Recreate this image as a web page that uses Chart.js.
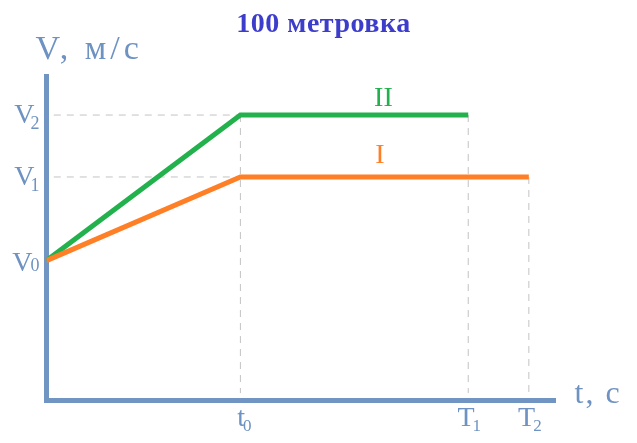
<!DOCTYPE html>
<html><head><meta charset="utf-8">
<script src="https://cdn.jsdelivr.net/npm/chart.js@4"></script>
<style>html,body{margin:0;padding:0;background:#fff}#wrap{width:637px;height:443px;position:relative}</style>
</head><body><div id="wrap"><canvas id="c" width="637" height="443"></canvas></div>
<script>
const titleText = '100 метровка';
const yAxisName = 'V, м/с';
const xAxisName = 't, с';
const xTickValues = [4, 8.7, 9.95];
const xTickNames = ['t', 'T', 'T'];
const xTickSubs = ['0', '1', '2'];
const yTickValues = [4.9, 7.83, 10];
const yTickNames = ['V', 'V', 'V'];
const yTickSubs = ['0', '1', '2'];
const seriesNames = ['I', 'II'];
const timeI = [0, 4, 9.95];
const speedI = [4.9, 7.83, 7.83];
const timeII = [0, 4, 8.7];
const speedII = [4.9, 10, 10];

const AXIS = '#7095c2';
const TEXT = '#6e92c2';
const GREEN = '#22b14c';
const ORANGE = '#ff7f27';
const GUIDE = '#c3c3c3';
const SERIF = '"Liberation Serif", "DejaVu Serif", serif';

const gapX = 0.15, gapY = 0.26;
function pts(xs, ys) { return xs.map((x, i) => ({x: x, y: ys[i]})); }
const guides = [
  pts([gapX, timeII[1]], [speedII[1], speedII[1]]),
  pts([gapX, timeI[1]], [speedI[1], speedI[1]]),
  pts([timeII[1], timeII[1]], [speedII[1], gapY]),
  pts([timeII[2], timeII[2]], [speedII[2], gapY]),
  pts([timeI[2], timeI[2]], [speedI[2], gapY])
];

const datasets = [
  {label: seriesNames[0], data: pts(timeI, speedI), borderColor: ORANGE, borderWidth: 5, pointRadius: 0, tension: 0},
  {label: seriesNames[1], data: pts(timeII, speedII), borderColor: GREEN, borderWidth: 5, pointRadius: 0, tension: 0}
].concat(guides.map(g => ({data: g, borderColor: GUIDE, borderWidth: 1, borderDash: [7, 6], pointRadius: 0})));

const labelsPlugin = {
  id: 'labels',
  afterDraw(chart) {
    const ctx = chart.ctx, xs = chart.scales.x, ys = chart.scales.y, a = chart.chartArea;
    ctx.save();
    ctx.textBaseline = 'alphabetic';
    // title
    ctx.fillStyle = '#3d3dcc';
    ctx.font = 'bold 28px ' + SERIF;
    ctx.textAlign = 'center';
    ctx.letterSpacing = '0.5px';
    ctx.fillText(titleText, chart.width / 2 + 5, 32);
    ctx.fillStyle = TEXT;
    // axis names
    ctx.font = '34px ' + SERIF;
    ctx.textAlign = 'left';
    ctx.letterSpacing = '4px';
    ctx.fillText(yAxisName, a.left - 11, a.top - 18);
    ctx.font = '32px ' + SERIF;
    ctx.letterSpacing = '2px';
    ctx.fillText(xAxisName, a.right + 19, a.bottom + 2);
    ctx.letterSpacing = '0px';
    // y ticks
    yTickValues.forEach((v, i) => {
      const y = ys.getPixelForValue(v);
      const sub = i === 0;
      const subX = a.left - 7;
      ctx.font = '18px ' + SERIF;
      const sw = ctx.measureText(yTickSubs[i]).width;
      ctx.textAlign = 'left';
      ctx.fillText(yTickSubs[i], subX - sw, y + (sub ? 10 : 14));
      ctx.font = '28px ' + SERIF;
      ctx.textAlign = 'right';
      ctx.fillText(yTickNames[i], subX - sw + (sub ? 2 : 4), y + (sub ? 10 : 8));
    });
    // x ticks
    xTickValues.forEach((v, i) => {
      const x = xs.getPixelForValue(v);
      ctx.font = '28px ' + SERIF;
      const mw = ctx.measureText(xTickNames[i]).width;
      ctx.font = '17px ' + SERIF;
      const sw = ctx.measureText(xTickSubs[i]).width;
      const left = x - (mw + sw - 2) / 2 + (i === 0 ? 4 : 1);
      ctx.textAlign = 'left';
      ctx.font = '28px ' + SERIF;
      ctx.fillText(xTickNames[i], left, a.bottom + 25);
      ctx.font = '17px ' + SERIF;
      ctx.fillText(xTickSubs[i], left + mw - 2, a.bottom + 30);
    });
    // series labels
    ctx.font = '28px ' + SERIF;
    ctx.textAlign = 'center';
    ctx.fillStyle = GREEN;
    ctx.fillText(seriesNames[1], xs.getPixelForValue(6.95), ys.getPixelForValue(speedII[1]) - 9);
    ctx.fillStyle = ORANGE;
    ctx.fillText(seriesNames[0], xs.getPixelForValue(6.88), ys.getPixelForValue(speedI[1]) - 14);
    ctx.restore();
  }
};

new Chart(document.getElementById('c'), {
  type: 'line',
  data: {datasets: datasets},
  options: {
    responsive: false,
    animation: false,
    layout: {padding: {left: 46.5, right: 81.5, top: 76.5, bottom: 42.5}},
    plugins: {
      legend: {display: false},
      tooltip: {enabled: false},
      title: {display: false}
    },
    scales: {
      x: {type: 'linear', min: 0, max: 10.5,
        ticks: {display: false}, grid: {display: false, drawTicks: false},
        border: {color: AXIS, width: 5}},
      y: {type: 'linear', min: 0, max: 11.35,
        ticks: {display: false}, grid: {display: false, drawTicks: false},
        border: {color: AXIS, width: 5}}
    }
  },
  plugins: [labelsPlugin]
});
</script></body></html>
